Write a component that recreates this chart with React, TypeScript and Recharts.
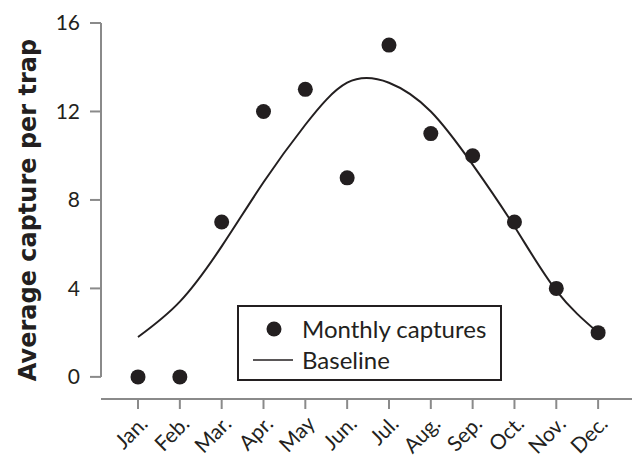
import React from 'react';
import { ComposedChart, Line, Scatter, XAxis, YAxis, ReferenceLine, Legend } from 'recharts';

const months = ['Jan.', 'Feb.', 'Mar.', 'Apr.', 'May', 'Jun.', 'Jul.', 'Aug.', 'Sep.', 'Oct.', 'Nov.', 'Dec.'];
const monthIndex = [1, 2, 3, 4, 5, 6, 7, 8, 9, 10, 11, 12];
const captures = [0, 0, 7, 12, 13, 9, 15, 11, 10, 7, 4, 2];
const baselineX = [1, 2, 3, 4, 5, 6, 7, 8, 9, 10, 11, 12];
const baselineY = [1.8, 3.4, 5.9, 8.8, 11.4, 13.3, 13.3, 12.0, 9.6, 6.8, 3.9, 2.0];
const yTicks = [0, 4, 8, 12, 16];

const scatterData = monthIndex.map((x, i) => ({ x, cap: captures[i] }));
const lineData = baselineX.map((x, i) => ({ x, base: baselineY[i] }));

const INK = '#231f20';
const AXIS = '#8a8a8a';
const FONT = 'Lato, "Open Sans", sans-serif';
const X_MIN = 0.115;
const X_MAX = 12.81;

const XTick = (props: any) => {
  const { x, y, payload } = props;
  const label = months[Math.round(payload.value) - 1];
  return (
    <g transform={`translate(${x + 11},${y + 16})`}>
      <text x={0} y={0} transform="rotate(-45)" textAnchor="end" fontSize={21} fill={INK} fontFamily={FONT}>
        {label}
      </text>
    </g>
  );
};

const YTitle = (props: any) => {
  const vb = props.viewBox || { x: 0, y: 23, width: 101, height: 376 };
  const cx = 28;
  const cy = vb.y + vb.height / 2 - 1;
  return (
    <text
      x={cx}
      y={cy}
      transform={`rotate(-90 ${cx} ${cy})`}
      textAnchor="middle"
      dominantBaseline="central"
      fontSize={24}
      fontWeight={700}
      fill={INK}
      fontFamily={'"DejaVu Sans", sans-serif'}
    >
      Average capture per trap
    </text>
  );
};

const Dot = (props: any) => <circle cx={props.cx} cy={props.cy} r={7.5} fill={INK} />;

const LegendBox = (props: any) => {
  const payload = props.payload || [];
  const ordered = [...payload].sort((a: any, b: any) => (a.type === 'circle' ? -1 : 1) - (b.type === 'circle' ? -1 : 1));
  return (
    <div
      style={{
        width: 261,
        height: 72,
        border: `2px solid ${INK}`,
        background: '#fff',
        boxSizing: 'content-box',
        fontFamily: FONT,
        fontSize: 24,
        color: INK,
      }}
    >
      {ordered.map((p: any, i: number) => (
        <div key={i} style={{ display: 'flex', alignItems: 'center', height: 31, marginTop: i === 0 ? 6 : 0 }}>
          <svg width={63} height={31} style={{ display: 'block' }}>
            {p.type === 'circle' ? (
              <circle cx={35} cy={16} r={7.5} fill={INK} />
            ) : (
              <line x1={14} x2={54} y1={16} y2={16} stroke={INK} strokeWidth={1.5} />
            )}
          </svg>
          <span style={{ lineHeight: '31px', whiteSpace: 'nowrap' }}>{p.value}</span>
        </div>
      ))}
    </div>
  );
};

export default function App() {
  return (
    <div style={{ position: 'absolute', left: 0, top: 0, width: 632, height: 457, background: '#fff' }}>
      <ComposedChart width={632} height={457} margin={{ top: 23, right: 0, bottom: 0, left: 0 }}>
        <XAxis
          type="number"
          dataKey="x"
          domain={[X_MIN, X_MAX]}
          ticks={monthIndex}
          allowDataOverflow
          height={58}
          interval={0}
          tickSize={10}
          tickMargin={0}
          axisLine={{ stroke: AXIS, strokeWidth: 2 }}
          tickLine={{ stroke: AXIS, strokeWidth: 2 }}
          tick={<XTick />}
        />
        <YAxis
          type="number"
          domain={[-1, 16]}
          ticks={yTicks}
          width={101}
          allowDataOverflow
          axisLine={false}
          tickSize={11}
          tickMargin={10}
          tickLine={{ stroke: AXIS, strokeWidth: 2 }}
          tick={{ fontSize: 21, fill: INK, fontFamily: FONT }}
          label={<YTitle />}
        />
        <ReferenceLine
          segment={[{ x: X_MIN, y: 0 }, { x: X_MIN, y: 16 }]}
          stroke={AXIS}
          strokeWidth={2}
          ifOverflow="visible"
        />
        <Line
          data={lineData}
          dataKey="base"
          name="Baseline"
          type="natural"
          stroke={INK}
          strokeWidth={2}
          dot={false}
          activeDot={false}
          legendType="line"
          isAnimationActive={false}
        />
        <Scatter
          data={scatterData}
          dataKey="cap"
          name="Monthly captures"
          fill={INK}
          shape={<Dot />}
          legendType="circle"
          isAnimationActive={false}
        />
        <Legend
          layout="vertical"
          align="center"
          verticalAlign="middle"
          content={<LegendBox />}
          wrapperStyle={{ position: 'absolute', left: 237, top: 305, width: 265, height: 76 }}
        />
      </ComposedChart>
    </div>
  );
}
